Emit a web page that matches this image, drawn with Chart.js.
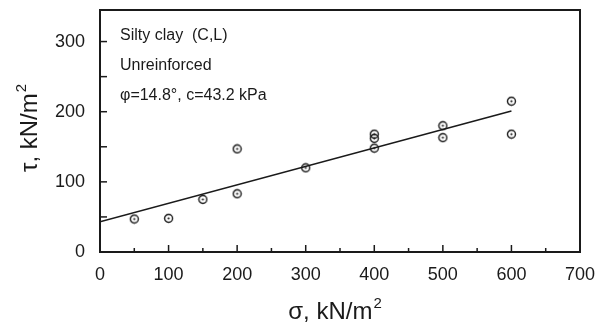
<!DOCTYPE html>
<html>
<head>
<meta charset="utf-8">
<script src="https://cdn.jsdelivr.net/npm/chart.js@4/dist/chart.umd.min.js"></script>
<style>
  html, body { margin: 0; padding: 0; background: #fff; }
  #wrap { width: 603px; height: 327px; }
</style>
</head>
<body>
<div id="wrap"><canvas id="shearChart" width="603" height="327"></canvas></div>
<script>
// test data: normal stress sigma vs shear stress tau
const sigma = [50, 100, 150, 200, 200, 300, 400, 400, 400, 500, 500, 600, 600];
const tau   = [47, 48, 75, 83, 147, 120, 168, 162, 148, 180, 163, 215, 168];

// fitted failure envelope (end points)
const fitSigma = [0, 600];
const fitTau = [43, 201];

const notes = ['Silty clay  (C,L)', 'Unreinforced', 'φ=14.8°, c=43.2 kPa'];

const xTicks = [0, 100, 200, 300, 400, 500, 600, 700];
const yTicks = [0, 100, 200, 300];

const ink = '#1a1a1a';
const fontFam = '"Liberation Sans", Arial, sans-serif';

// open circle with a dot in the middle
function makeMarker() {
  const c = document.createElement('canvas');
  c.width = 11; c.height = 11;
  const g = c.getContext('2d');
  g.strokeStyle = ink;
  g.lineWidth = 1.4;
  g.beginPath();
  g.arc(5.5, 5.5, 4, 0, Math.PI * 2);
  g.stroke();
  g.fillStyle = ink;
  g.beginPath();
  g.arc(5.5, 5.5, 1.1, 0, Math.PI * 2);
  g.fill();
  return c;
}

// text with a superscript 2 at the end
function unitLabel(ctx, text, x, y) {
  ctx.font = '24px ' + fontFam;
  const w1 = ctx.measureText(text).width;
  ctx.font = '15px ' + fontFam;
  const w2 = ctx.measureText('2').width;
  const start = x - (w1 + w2 + 1) / 2;
  ctx.font = '24px ' + fontFam;
  ctx.fillText(text, start, y);
  ctx.font = '15px ' + fontFam;
  ctx.fillText('2', start + w1 + 1, y - 11);
}

// frame, inward ticks, axis titles and text box
const framePlugin = {
  id: 'frame',
  afterDraw(chart) {
    const { ctx, chartArea: a, scales } = chart;
    ctx.save();
    ctx.strokeStyle = ink;
    ctx.lineWidth = 2;
    ctx.strokeRect(a.left, a.top, a.right - a.left, a.bottom - a.top);

    ctx.lineWidth = 1.5;
    for (let v = 50; v <= 300; v += 50) {
      const y = scales.y.getPixelForValue(v);
      ctx.beginPath();
      ctx.moveTo(a.left, y);
      ctx.lineTo(a.left + 7, y);
      ctx.stroke();
    }
    for (let v = 50; v <= 650; v += 50) {
      const x = scales.x.getPixelForValue(v);
      ctx.beginPath();
      ctx.moveTo(x, a.bottom);
      ctx.lineTo(x, a.bottom - (v % 100 === 0 ? 7 : 4));
      ctx.stroke();
    }

    ctx.fillStyle = ink;
    ctx.textBaseline = 'alphabetic';
    ctx.textAlign = 'left';

    ctx.font = '16px ' + fontFam;
    notes.forEach((t, i) => {
      ctx.fillText(t, a.left + 20, a.top + 30 + i * 30);
    });

    // axis titles
    unitLabel(ctx, 'σ, kN/m', 335, 319);
    ctx.save();
    ctx.translate(37, 128);
    ctx.rotate(-Math.PI / 2);
    unitLabel(ctx, 'τ, kN/m', 0, 0);
    ctx.restore();

    ctx.restore();
  }
};

new Chart(document.getElementById('shearChart'), {
  data: {
    datasets: [
      {
        type: 'scatter',
        data: sigma.map((s, i) => ({ x: s, y: tau[i] })),
        pointStyle: makeMarker(),
        pointRadius: 5,
      },
      {
        type: 'line',
        data: fitSigma.map((s, i) => ({ x: s, y: fitTau[i] })),
        borderColor: ink,
        borderWidth: 1.6,
        pointRadius: 0,
        fill: false,
      }
    ]
  },
  options: {
    responsive: false,
    animation: false,
    layout: { padding: { top: 10, right: 23, left: 0, bottom: 0 } },
    plugins: {
      legend: { display: false },
      tooltip: { enabled: false },
    },
    scales: {
      x: {
        type: 'linear',
        min: 0,
        max: 700,
        afterBuildTicks(scale) { scale.ticks = xTicks.map(v => ({ value: v })); },
        afterFit(scale) { scale.height = 75; scale.paddingLeft = 0; scale.paddingRight = 0; },
        grid: { display: false, drawTicks: false },
        border: { display: false },
        ticks: { color: ink, padding: 12, font: { size: 18, family: fontFam } },
      },
      y: {
        min: 0,
        max: 345,
        afterBuildTicks(scale) { scale.ticks = yTicks.map(v => ({ value: v })); },
        afterFit(scale) { scale.width = 100; scale.paddingTop = 0; scale.paddingBottom = 0; },
        grid: { display: false, drawTicks: false },
        border: { display: false },
        ticks: { color: ink, padding: 15, font: { size: 18, family: fontFam } },
      }
    }
  },
  plugins: [framePlugin]
});
</script>
</body>
</html>
